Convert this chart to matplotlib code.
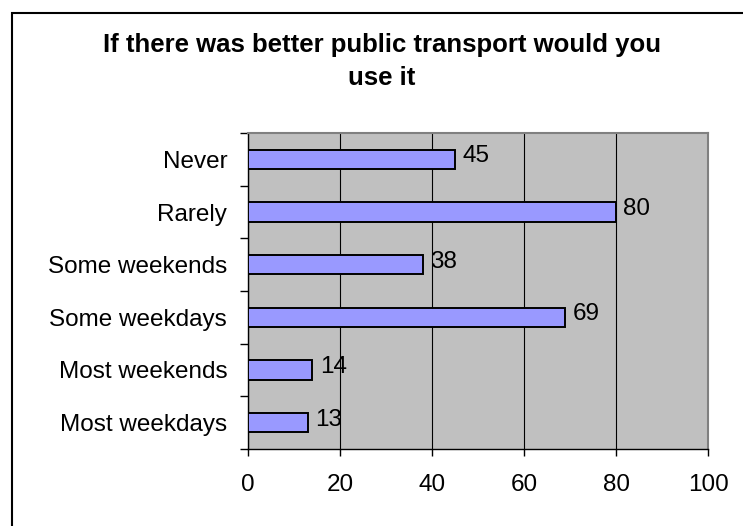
import matplotlib.pyplot as plt
from matplotlib.patches import Rectangle

plt.rcParams['font.family'] = ['Liberation Sans', 'DejaVu Sans']

# survey answers, top to bottom as shown
categories = ['Never', 'Rarely', 'Some weekends', 'Some weekdays',
              'Most weekends', 'Most weekdays']
counts = [45, 80, 38, 69, 14, 13]
x_ticks = [0, 20, 40, 60, 80, 100]

title_lines = ['If there was better public transport would you', 'use it']

W, H = 743, 526
fig = plt.figure(figsize=(W / 100, H / 100), dpi=100)
fig.patch.set_facecolor('white')

# chart frame around the whole chart area (runs off right and bottom)
frame = Rectangle((12 / W, -0.1), 1.1, 1 - 13 / H + 0.1,
                  transform=fig.transFigure, fill=False,
                  edgecolor='black', linewidth=1.5, clip_on=False)
fig.patches.append(frame)

ax = fig.add_axes([248 / W, 1 - 449 / H, 460 / W, 316 / H])
ax.set_facecolor('#C0C0C0')

# first category at the top
ypos = list(range(len(categories)))[::-1]
ax.barh(ypos, counts, height=0.37, color='#9999FF',
        edgecolor='black', linewidth=1.4, zorder=3)

for y, v in zip(ypos, counts):
    ax.text(v + 1.6, y + 0.06, str(v), va='center', ha='left',
            fontsize=17.5, zorder=4)

ax.set_xlim(0, 100)
ax.set_ylim(-0.5, len(categories) - 0.5)
ax.set_xticks(x_ticks)
ax.set_yticks(ypos)
ax.set_yticklabels(categories)
ax.set_yticks([i - 0.5 for i in range(len(categories) + 1)], minor=True)

ax.tick_params(axis='x', direction='out', length=5, width=1,
               pad=13, labelsize=17.5)
ax.tick_params(axis='y', which='major', length=0, pad=15, labelsize=17.5)
ax.tick_params(axis='y', which='minor', direction='out', length=6, width=1)

ax.grid(axis='x', color='black', linewidth=0.8, zorder=1)
ax.set_axisbelow(True)

for side in ['top', 'right']:
    ax.spines[side].set_color('#808080')
    ax.spines[side].set_linewidth(1.5)
for side in ['left', 'bottom']:
    ax.spines[side].set_color('black')
    ax.spines[side].set_linewidth(1)

# two-line bold title
for line, base in zip(title_lines, [52, 85]):
    fig.text(382 / W, 1 - base / H, line, ha='center', va='baseline',
             fontsize=18.5, fontweight='bold')

fig.savefig('out.png', dpi=100)
